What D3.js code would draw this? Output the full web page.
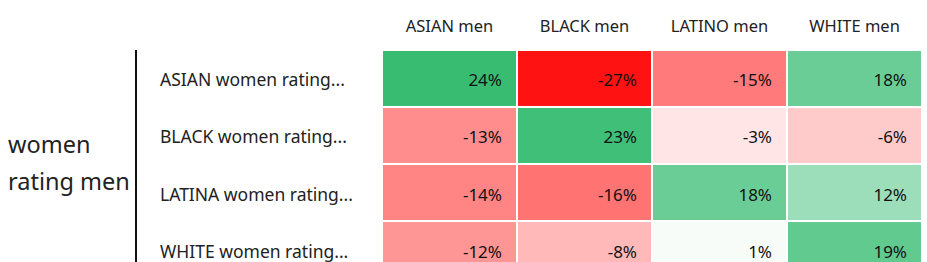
<!DOCTYPE html>
<html>
<head>
<meta charset="utf-8">
<script src="https://cdn.jsdelivr.net/npm/d3@7"></script>
<style>
  body { margin: 0; background: #fff; }
  text { font-family: "Noto Sans", sans-serif; fill: #222; }
</style>
</head>
<body>
<div class="heatmap"></div>
<script>
// columns: men being rated, rows: women doing the rating
const menGroups = ["ASIAN men", "BLACK men", "LATINO men", "WHITE men"];
const womenGroups = ["ASIAN women rating...", "BLACK women rating...", "LATINA women rating...", "WHITE women rating..."];
const asianWomen  = [24, -27, -15, 18];
const blackWomen  = [-13, 23, -3, -6];
const latinaWomen = [-14, -16, 18, 12];
const whiteWomen  = [-12, -8, 1, 19];
const rowTitle = ["women", "rating men"];

const rows = [asianWomen, blackWomen, latinaWomen, whiteWomen];
const cells = [];
rows.forEach((r, i) => r.forEach((v, j) => cells.push({row: womenGroups[i], col: menGroups[j], value: v})));

const width = 927, height = 262;

const svg = d3.select(".heatmap")
  .append("svg")
    .attr("width", width)
    .attr("height", height);

const x = d3.scaleBand()
  .domain(menGroups)
  .range([383, 921])
  .paddingInner(0.015);

const y = d3.scaleBand()
  .domain(womenGroups)
  .range([51, 277])
  .paddingInner(0.036);

const color = d3.scaleLinear()
  .domain([-27, 0, 24])
  .range(["#ff1212", "#ffffff", "#38bc72"]);

// column headers
svg.append("g")
  .selectAll("text")
  .data(menGroups)
  .enter()
  .append("text")
    .attr("x", d => x(d) + x.bandwidth() / 2)
    .attr("y", 32)
    .attr("text-anchor", "middle")
    .style("font-size", "16.5px")
    .text(d => d);

// row labels
svg.append("g")
  .selectAll("text")
  .data(womenGroups)
  .enter()
  .append("text")
    .attr("x", 160)
    .attr("y", d => y(d) + y.bandwidth() / 2 + 8)
    .style("font-size", "17.5px")
    .text(d => d);

// bracket line
svg.append("line")
  .attr("x1", 136).attr("x2", 136)
  .attr("y1", 50).attr("y2", height)
  .attr("stroke", "#111")
  .attr("stroke-width", 2);

// group title
svg.append("text")
  .attr("x", 8)
  .attr("y", 153)
  .style("font-size", "23.5px")
  .selectAll("tspan")
  .data(rowTitle)
  .enter()
  .append("tspan")
    .attr("x", 8)
    .attr("dy", (d, i) => i ? 37 : 0)
    .text(d => d);

// cells
svg.append("g")
  .selectAll("rect")
  .data(cells)
  .enter()
  .append("rect")
    .attr("x", d => x(d.col))
    .attr("y", d => y(d.row))
    .attr("width", x.bandwidth())
    .attr("height", y.bandwidth())
    .style("fill", d => color(d.value));

svg.append("g")
  .selectAll("text")
  .data(cells)
  .enter()
  .append("text")
    .attr("x", d => x(d.col) + x.bandwidth() - 14)
    .attr("y", d => y(d.row) + y.bandwidth() / 2 + 8)
    .attr("text-anchor", "end")
    .style("font-size", "17px")
    .style("fill", "#111")
    .text(d => d.value + "%");
</script>
</body>
</html>
